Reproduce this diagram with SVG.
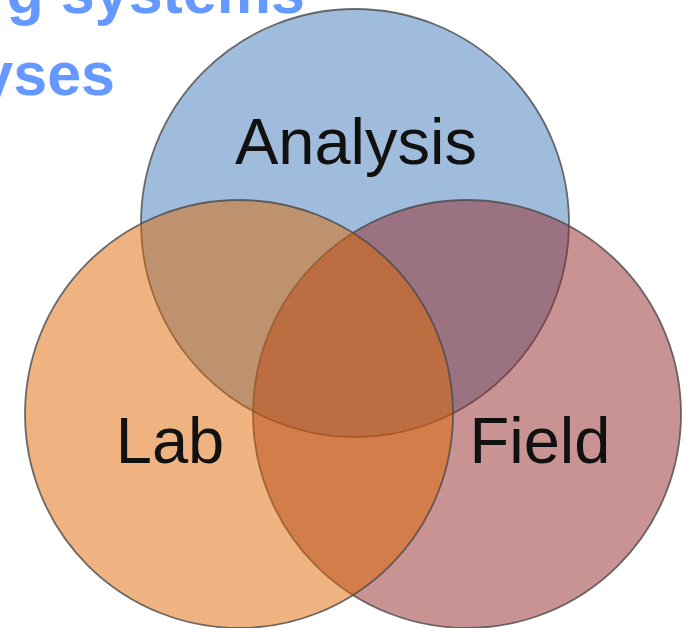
<svg xmlns="http://www.w3.org/2000/svg" width="685" height="628" viewBox="0 0 685 628">
<style>
.c{stroke:#4a4a4a;stroke-width:1.8;stroke-opacity:0.8}
.lbl{font-family:"Liberation Sans",Arial,sans-serif;font-size:65px;fill:#111;text-anchor:middle}
.title{font-family:"Liberation Sans",Arial,sans-serif;font-size:61px;font-weight:bold;fill:#6699ff;text-anchor:end}
</style>
<rect width="685" height="628" fill="#ffffff"/>
<g id="title">
<text class="title" x="305" y="13">g systems</text>
<text class="title" x="115" y="95">yses</text>
</g>
<g id="analysis">
<circle class="c" cx="355" cy="223" r="214" fill="#a0bcdc"/>
<text class="lbl" x="356" y="164">Analysis</text>
</g>
<g id="field">
<circle class="c" cx="467" cy="414" r="214" fill="#932727" fill-opacity="0.5"/>
<text class="lbl" x="540" y="463">Field</text>
</g>
<g id="lab">
<circle class="c" cx="239" cy="414" r="214" fill="#dd6701" fill-opacity="0.5"/>
<text class="lbl" x="170" y="463">Lab</text>
</g>
<g id="connectors"/>
</svg>
